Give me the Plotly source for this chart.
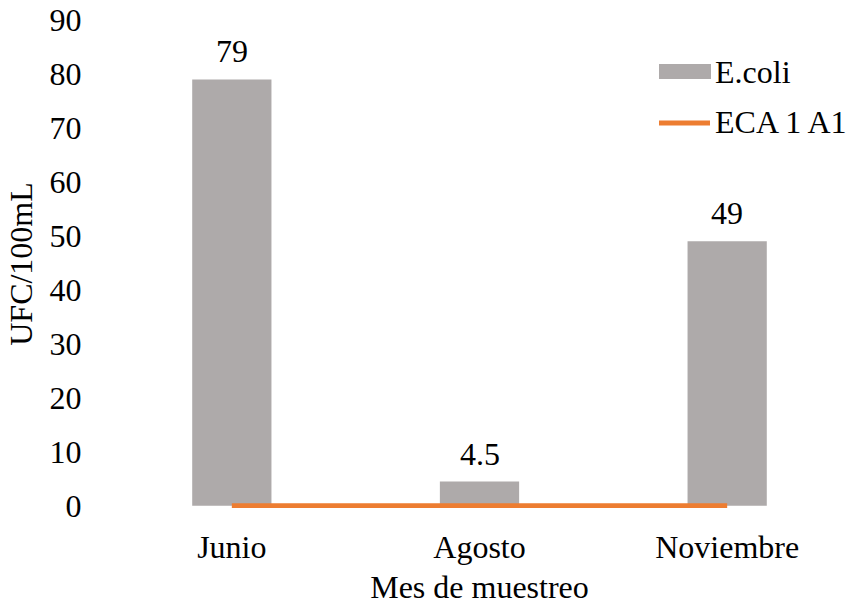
import plotly.graph_objects as go

categories = ["Junio", "Agosto", "Noviembre"]
ecoli = [79, 4.5, 49]
eca_limit = [0, 0, 0]
ecoli_labels = ["79", "4.5", "49"]
y_ticks = [0, 10, 20, 30, 40, 50, 60, 70, 80, 90]

FONT = "Liberation Serif"
GRAY = "#AEAAAA"
ORANGE = "#ED7D31"
FS = 32

fig = go.Figure()
fig.add_trace(go.Bar(
    x=categories, y=ecoli, name="E.coli",
    marker=dict(color=GRAY, line=dict(width=0)),
    showlegend=False,
))
fig.add_trace(go.Scatter(
    x=categories, y=eca_limit, name="ECA 1 A1", mode="lines",
    line=dict(color=ORANGE, width=5),
    showlegend=False,
))

# data labels above bars
for c, v, lab in zip(categories, ecoli, ecoli_labels):
    fig.add_annotation(x=c, y=v, text=lab, showarrow=False,
                       yanchor="bottom", yshift=8,
                       font=dict(family=FONT, size=FS, color="black"))

# manual legend (keys + labels)
PL, PW, PB, PH = 108, 743, 508, 488
def px(x):
    return (x - PL) / PW
def py(y):
    return (PB - y) / PH

fig.add_shape(type="rect", xref="paper", yref="paper",
              x0=px(659), x1=px(711), y0=py(79), y1=py(64),
              fillcolor=GRAY, line=dict(width=0))
fig.add_shape(type="line", xref="paper", yref="paper",
              x0=px(659), x1=px(710), y0=py(123), y1=py(123),
              line=dict(color=ORANGE, width=5))
fig.add_annotation(xref="paper", yref="paper", x=px(713), y=py(72),
                   text="E.coli", showarrow=False, xanchor="left", yanchor="middle",
                   font=dict(family=FONT, size=FS, color="black"))
fig.add_annotation(xref="paper", yref="paper", x=px(713), y=py(122),
                   text="ECA 1 A1", showarrow=False, xanchor="left", yanchor="middle",
                   font=dict(family=FONT, size=FS, color="black"))

fig.update_layout(
    width=851, height=605,
    margin=dict(l=108, r=0, t=20, b=97),
    paper_bgcolor="white", plot_bgcolor="white",
    font=dict(family=FONT, size=FS, color="black"),
    bargap=0.68,
    showlegend=False,
)
fig.update_xaxes(
    range=[-0.5, 2.5], showgrid=False, showline=False, zeroline=False,
    ticks="outside", ticklen=11, tickcolor="rgba(0,0,0,0)",
    tickfont=dict(family=FONT, size=FS, color="black"),
    title=dict(text="Mes de muestreo", standoff=11,
               font=dict(family=FONT, size=FS, color="black")),
)
fig.update_yaxes(
    range=[-0.4, 90], tickvals=y_ticks, showgrid=False, showline=False, zeroline=False,
    ticks="outside", ticklen=19, tickcolor="rgba(0,0,0,0)",
    tickfont=dict(family=FONT, size=FS, color="black"),
    title=dict(text="UFC/100mL", standoff=7,
               font=dict(family=FONT, size=FS, color="black")),
)

fig.write_html("out.html")
